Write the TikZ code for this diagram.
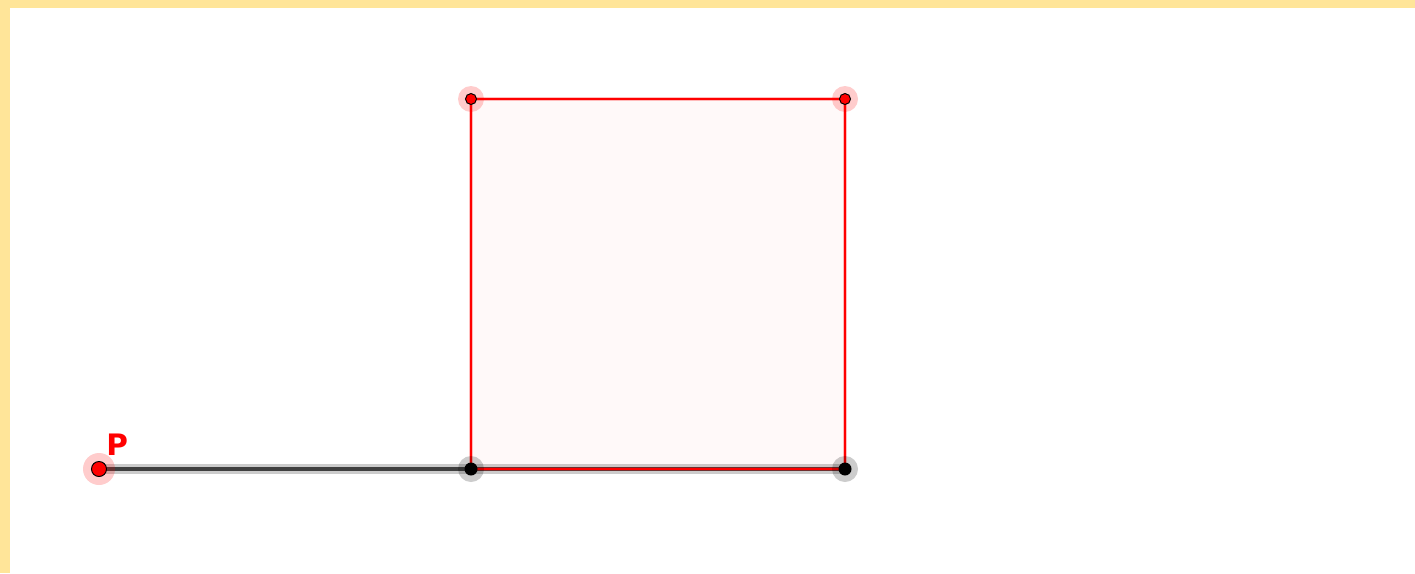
\documentclass[tikz,border=0pt]{standalone}
\usepackage{fontspec}
\setsansfont{DejaVu Sans}
\definecolor{frameyellow}{RGB}{255, 229, 153}
\definecolor{ptred}{RGB}{255, 0, 0}
\usetikzlibrary{positioning}

\begin{document}
\begin{tikzpicture}[x=0.025cm, y=-0.025cm,
    sqedge/.style={draw=ptred, line width=3.5pt, opacity=0.25},
    sqline/.style={draw=ptred, line width=1.4pt},
    seghalo/.style={draw=black, line width=6.5pt, opacity=0.2},
    segline/.style={draw=black!75, line width=2.6pt},
    redhalo/.style={fill=ptred, opacity=0.2},
    grayhalo/.style={fill=black, opacity=0.2},
    redpt/.style={fill=ptred, draw=black, line width=0.7pt},
    blackpt/.style={fill=black}]
  % frame
  \fill[frameyellow] (0,0) rectangle (1415,573);
  \fill[white] (10,8) rectangle (1415,573);
  \useasboundingbox (0,0) rectangle (1415,573);

  % points
  \coordinate (P) at (99,469);
  \coordinate (A) at (471,469);
  \coordinate (B) at (845,469);
  \coordinate (C) at (845,99);
  \coordinate (D) at (471,99);

  % segment
  \draw[seghalo] (P) -- (B);
  \draw[segline] (P) -- (B);

  % square
  \fill[ptred, opacity=0.025] (A) -- (B) -- (C) -- (D) -- cycle;
  \draw[sqedge] (A) -- (B) -- (C) -- (D) -- cycle;
  \draw[sqline] (A) -- (B) -- (C) -- (D) -- cycle;

  % halos and dots
  \fill[redhalo] (P) circle (16);
  \fill[redhalo] (C) circle (13);
  \fill[redhalo] (D) circle (13);
  \fill[grayhalo] (A) circle (13);
  \fill[grayhalo] (B) circle (13);
  \filldraw[redpt] (P) circle (7.5);
  \filldraw[redpt] (C) circle (5.5);
  \filldraw[redpt] (D) circle (5.5);
  \fill[blackpt] (A) circle (6.5);
  \fill[blackpt] (B) circle (6.5);

  \node[text=ptred, font=\fontsize{21}{24}\sffamily\bfseries, inner sep=0pt, anchor=south west] (lblP) at (106,456) {P};
\end{tikzpicture}
\end{document}
